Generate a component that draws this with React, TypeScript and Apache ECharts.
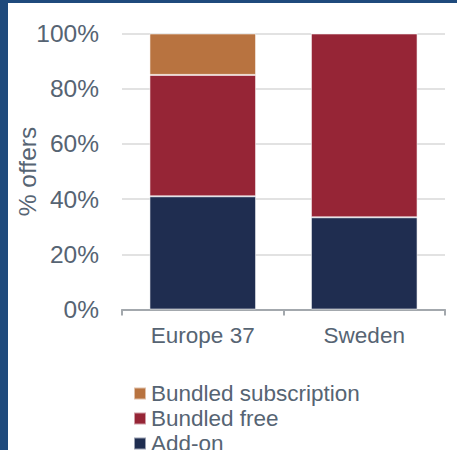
import React, { useEffect, useRef } from "react";
import * as echarts from "echarts";

const categories = ["Europe 37", "Sweden"];
const addOn = [41, 33.4];
const bundledFree = [44, 66.6];
const bundledSubscription = [15, 0];
const yTicks = [0, 20, 40, 60, 80, 100];
const legendOrder = ["Bundled subscription", "Bundled free", "Add-on"];

const TEXT = "#566473";
const FONT = "'Liberation Sans', Arial, sans-serif";

export default function App() {
  const ref = useRef<HTMLDivElement>(null);
  useEffect(() => {
    if (!ref.current) return;
    const chart = echarts.init(ref.current, undefined, { renderer: "svg" });
    const barStyle = (color: string) => ({
      color,
      borderColor: "rgba(255,255,255,0.55)",
      borderWidth: 1,
    });
    chart.setOption({
      animation: false,
      backgroundColor: "#ffffff",
      textStyle: { fontFamily: FONT },
      graphic: [
        { type: "rect", left: 0, top: 0, shape: { width: 8, height: 450 }, style: { fill: "#1f4a7c" } },
        { type: "rect", left: 0, top: 0, shape: { width: 457, height: 3 }, style: { fill: "#1f4a7c" } },
      ],
      grid: { left: 122, right: 12, top: 33.5, bottom: 140.5, containLabel: false, outerBoundsMode: "none" },
      legend: legendOrder.map((name, i) => ({
        orient: "vertical",
        left: 133,
        top: 382 + i * 25,
        padding: 0,
        itemWidth: 12,
        itemHeight: 12,
        icon: "rect",
        data: [name],
        textStyle: { color: TEXT, fontSize: 22.5, fontFamily: FONT },
      })),
      xAxis: {
        type: "category",
        data: categories,
        axisLine: { show: true, lineStyle: { color: "#a3a8ad", width: 2 } },
        axisTick: { show: true, length: 6, lineStyle: { color: "#a3a8ad", width: 2 } },
        axisLabel: { color: TEXT, fontSize: 22.5, margin: 14, fontFamily: FONT },
      },
      yAxis: {
        type: "value",
        min: 0,
        max: 100,
        interval: 20,
        name: "% offers",
        nameLocation: "middle",
        nameGap: 82,
        nameMoveOverlap: false,
        nameTextStyle: { color: TEXT, fontSize: 24.5, fontFamily: FONT },
        axisLine: { show: false },
        axisTick: { show: false },
        axisLabel: {
          color: TEXT,
          fontSize: 24.5,
          margin: 23,
          fontFamily: FONT,
          formatter: (v: number) => (yTicks.includes(v) ? `${v}%` : ""),
        },
        splitLine: { show: true, lineStyle: { color: "#d9d9d9", width: 1.5 } },
      },
      series: [
        { name: "Add-on", type: "bar", stack: "s", barWidth: "66%", data: addOn, itemStyle: barStyle("#1f2d50") },
        { name: "Bundled free", type: "bar", stack: "s", data: bundledFree, itemStyle: barStyle("#962536") },
        { name: "Bundled subscription", type: "bar", stack: "s", data: bundledSubscription, itemStyle: barStyle("#b87340") },
      ],
    });
    return () => chart.dispose();
  }, []);
  return (
    <div
      ref={ref}
      style={{ position: "fixed", left: 0, top: 0, width: 457, height: 450 }}
    />
  );
}
